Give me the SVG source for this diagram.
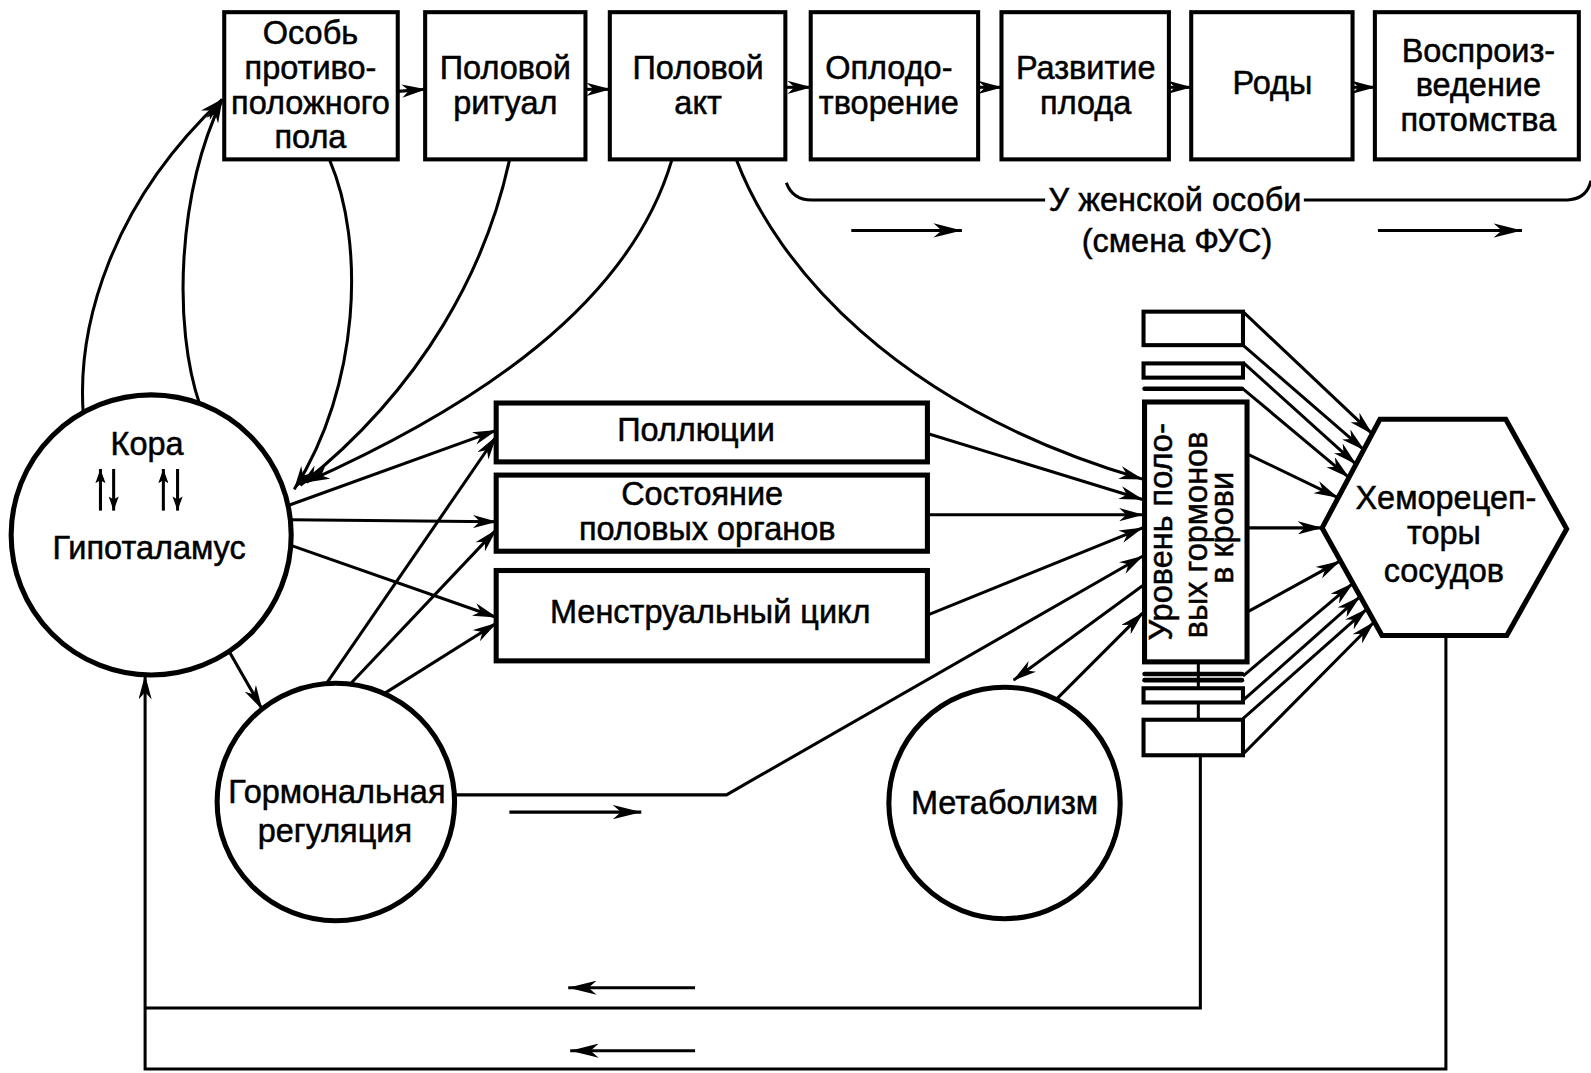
<svg xmlns="http://www.w3.org/2000/svg" width="1591" height="1073" viewBox="0 0 1591 1073">
<defs>
<style>
.box{fill:#fff;stroke:#000;stroke-width:4}
.thk{fill:#fff;stroke:#000;stroke-width:5}
.cir{fill:#fff;stroke:#000;stroke-width:5}
.ln{fill:none;stroke:#000;stroke-width:3}
.bar{fill:none;stroke:#000;stroke-width:4.5;stroke-linecap:round}
.t{font-family:"Liberation Sans",Arial,Helvetica,sans-serif;font-size:32px;text-anchor:middle;fill:#000;stroke:#000;stroke-width:0.5}
</style>
<marker id="ah" viewBox="0 0 24 13" refX="23" refY="6.5" markerWidth="24" markerHeight="13" markerUnits="userSpaceOnUse" orient="auto"><path d="M0,0 L24,6.5 L0,13 L7,6.5 z"/></marker>
<marker id="ahs" viewBox="0 0 14 10" refX="14" refY="5" markerWidth="14" markerHeight="10" markerUnits="userSpaceOnUse" orient="auto"><path d="M0,0 L14,5 L0,10 L3,5 z"/></marker>
<marker id="ahb" viewBox="0 0 28 14" refX="28" refY="7" markerWidth="28" markerHeight="14" markerUnits="userSpaceOnUse" orient="auto"><path d="M0,0 L28,7 L0,14 L8,7 z"/></marker>
</defs>
<rect width="1591" height="1073" fill="#fff"/>
<g transform="scale(1.01467,1.01514)">

<g id="connectors">
  <path class="ln" d="M392,90 L419,88" marker-end="url(#ah)"/>
  <path class="ln" d="M577,88 L601,88" marker-end="url(#ah)"/>
  <path class="ln" d="M774,86 L799,86" marker-end="url(#ah)"/>
  <path class="ln" d="M964,86 L987,86" marker-end="url(#ah)"/>
  <path class="ln" d="M1152,86 L1174,86" marker-end="url(#ah)"/>
  <path class="ln" d="M1333,86 L1355,86" marker-end="url(#ah)"/>
  <path class="ln" d="M775,180 Q781,197 800,197 L1030,197"/>
  <path class="ln" d="M1285,197 L1545,197 Q1564,196 1568,178"/>
  <path class="ln" d="M839,227 L948,227" marker-end="url(#ahb)"/>
  <path class="ln" d="M1358,227 L1500,227" marker-end="url(#ahb)"/>
  <path class="ln" d="M82,407 C76,320 110,200 219,98" marker-end="url(#ah)"/>
  <path class="ln" d="M197,399 C170,320 175,190 219,98" marker-end="url(#ah)"/>
  <path class="ln" d="M325,158 C360,240 355,380 290,482" marker-end="url(#ah)"/>
  <path class="ln" d="M502,158 C480,260 420,380 296,478" marker-end="url(#ah)"/>
  <path class="ln" d="M662,158 C620,300 470,400 302,475" marker-end="url(#ah)"/>
  <path class="ln" d="M284,498 L489,424" marker-end="url(#ah)"/>
  <path class="ln" d="M287,512 L489,514" marker-end="url(#ah)"/>
  <path class="ln" d="M286,537 L489,608" marker-end="url(#ah)"/>
  <path class="ln" d="M226,642 L258,698" marker-end="url(#ah)"/>
  <path class="ln" d="M322,673 L489,430" marker-end="url(#ah)"/>
  <path class="ln" d="M345,674 L489,522" marker-end="url(#ah)"/>
  <path class="ln" d="M379,683 L489,614" marker-end="url(#ah)"/>
  <path class="ln" d="M726,158 C765,260 880,400 1126,472" marker-end="url(#ah)"/>
  <path class="ln" d="M914,427 L1126,492" marker-end="url(#ah)"/>
  <path class="ln" d="M914,507 L1126,507" marker-end="url(#ah)"/>
  <path class="ln" d="M914,606 L1126,520" marker-end="url(#ah)"/>
  <path class="ln" d="M445,783 L716,783 L1126,548" marker-end="url(#ah)"/>
  <path class="ln" d="M502,800 L632,800" marker-end="url(#ahb)"/>
  <path class="ln" d="M1126,577 L999,670" marker-end="url(#ah)"/>
  <path class="ln" d="M1041,689 L1126,604" marker-end="url(#ah)"/>
  <path class="ln" d="M1225,307 L1352,427" marker-end="url(#ah)"/>
  <path class="ln" d="M1225,340 L1344,443" marker-end="url(#ah)"/>
  <path class="ln" d="M1225,357 L1336,457" marker-end="url(#ah)"/>
  <path class="ln" d="M1225,383 L1329,470" marker-end="url(#ah)"/>
  <path class="ln" d="M1229,447 L1318,490" marker-end="url(#ah)"/>
  <path class="ln" d="M1229,520 L1302,520" marker-end="url(#ah)"/>
  <path class="ln" d="M1229,603 L1320,553" marker-end="url(#ah)"/>
  <path class="ln" d="M1225,666 L1333,575" marker-end="url(#ah)"/>
  <path class="ln" d="M1225,690 L1340,588" marker-end="url(#ah)"/>
  <path class="ln" d="M1225,708 L1347,600" marker-end="url(#ah)"/>
  <path class="ln" d="M1225,743 L1354,613" marker-end="url(#ah)"/>
  <path class="ln" d="M1183,744 L1183,993 L143,993"/>
  <path class="ln" d="M1425,626 L1425,1053 L143,1053 L143,666" marker-end="url(#ah)"/>
  <path class="ln" d="M685,973 L560,973" marker-end="url(#ahb)"/>
  <path class="ln" d="M685,1035 L562,1035" marker-end="url(#ahb)"/>
</g>

<g id="n-osob"><rect class="box" x="221" y="12" width="171" height="145"/><text class="t"><tspan x="306" y="43">Особь</tspan><tspan x="306" y="78">противо-</tspan><tspan x="306" y="112">положного</tspan><tspan x="306" y="146">пола</tspan></text></g>
<g id="n-ritual"><rect class="box" x="419" y="12" width="158" height="145"/><text class="t"><tspan x="498" y="78">Половой</tspan><tspan x="498" y="112">ритуал</tspan></text></g>
<g id="n-akt"><rect class="box" x="601" y="12" width="173" height="145"/><text class="t"><tspan x="688" y="78">Половой</tspan><tspan x="688" y="112">акт</tspan></text></g>
<g id="n-oplod"><rect class="box" x="799" y="12" width="165" height="145"/><text class="t"><tspan x="876" y="78">Оплодо-</tspan><tspan x="876" y="112">творение</tspan></text></g>
<g id="n-razv"><rect class="box" x="987" y="12" width="165" height="145"/><text class="t"><tspan x="1070" y="78">Развитие</tspan><tspan x="1070" y="112">плода</tspan></text></g>
<g id="n-rody"><rect class="box" x="1174" y="12" width="159" height="145"/><text class="t" x="1254" y="93">Роды</text></g>
<g id="n-vospr"><rect class="box" x="1355" y="12" width="201" height="145"/><text class="t"><tspan x="1457" y="61">Воспроиз-</tspan><tspan x="1457" y="95">ведение</tspan><tspan x="1457" y="129">потомства</tspan></text></g>

<g id="n-label-female"><text class="t"><tspan x="1158" y="208">У женской особи</tspan><tspan x="1160" y="248">(смена ФУС)</tspan></text></g>

<g id="n-kora">
  <circle class="cir" cx="149" cy="527" r="138"/>
  <text class="t" x="145" y="448">Кора</text>
  <text class="t" x="147" y="551">Гипоталамус</text>
  <path class="ln" d="M99,503 L99,462" marker-end="url(#ahs)"/>
  <path class="ln" d="M112,462 L112,503" marker-end="url(#ahs)"/>
  <path class="ln" d="M161,503 L161,462" marker-end="url(#ahs)"/>
  <path class="ln" d="M175,462 L175,503" marker-end="url(#ahs)"/>
</g>
<g id="n-gorm"><circle class="cir" cx="331" cy="790" r="117"/><text class="t"><tspan x="332" y="791">Гормональная</tspan><tspan x="330" y="829">регуляция</tspan></text></g>
<g id="n-metab"><circle class="cir" cx="990" cy="791" r="114"/><text class="t" x="990" y="802">Метаболизм</text></g>

<g id="n-poll"><rect class="thk" x="489" y="397" width="425" height="58"/><text class="t" x="686" y="434">Поллюции</text></g>
<g id="n-sost"><rect class="thk" x="489" y="468" width="425" height="75"/><text class="t"><tspan x="692" y="497">Состояние</tspan><tspan x="697" y="532">половых органов</tspan></text></g>
<g id="n-menstr"><rect class="thk" x="489" y="562" width="425" height="89"/><text class="t" x="700" y="614">Менструальный цикл</text></g>

<g id="n-uroven">
  <rect class="box" x="1127" y="307" width="98" height="33"/>
  <rect class="box" x="1127" y="358" width="98" height="14"/>
  <line class="bar" x1="1128" y1="383" x2="1224" y2="383"/>
  <path class="ln" d="M1181,652 L1181,709"/>
  <line class="bar" x1="1128" y1="664" x2="1224" y2="664"/>
  <line class="bar" x1="1128" y1="670" x2="1224" y2="670"/>
  <rect class="box" x="1127" y="678" width="98" height="14"/>
  <rect class="box" x="1127" y="709" width="98" height="35"/>
  <rect class="thk" x="1128" y="396" width="101" height="256"/>
  <text class="t" transform="translate(1155,524) rotate(-90)">Уровень поло-</text>
  <text class="t" transform="translate(1190,527) rotate(-90)">вых гормонов</text>
  <text class="t" transform="translate(1215,520) rotate(-90)">в крови</text>
</g>

<g id="n-hemo">
  <polygon class="cir" points="1303,520 1360,413 1484,413 1544,521 1485,626 1362,626"/>
  <text class="t"><tspan x="1425" y="501">Хеморецеп-</tspan><tspan x="1423" y="536">торы</tspan><tspan x="1423" y="573">сосудов</tspan></text>
</g>

</g>
</svg>
